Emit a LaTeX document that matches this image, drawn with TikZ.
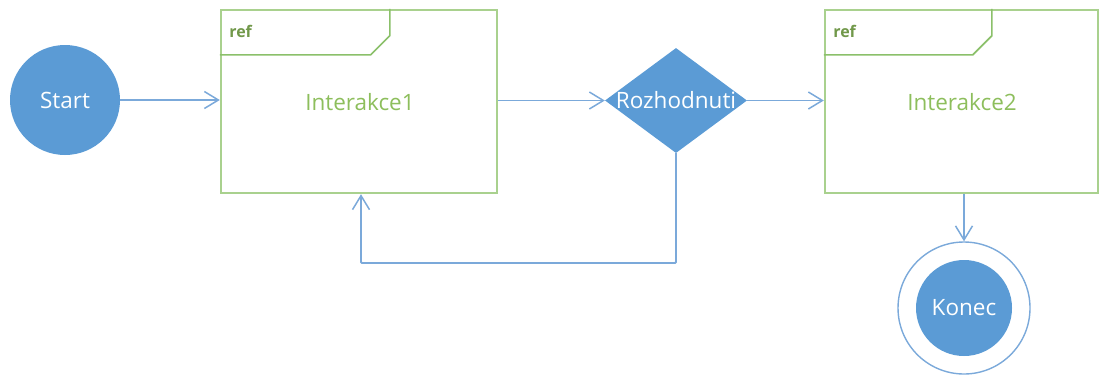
\documentclass[tikz,border=0pt]{standalone}
\usepackage{fontspec}
\setmainfont{Open Sans}
\usetikzlibrary{shapes.geometric,arrows.meta,calc}
\definecolor{nodeblue}{HTML}{5B9BD5}
\definecolor{linkblue}{HTML}{7BA9DA}
\definecolor{frameline}{HTML}{A9D18E}
\definecolor{tabline}{HTML}{8BC06A}
\definecolor{labelgreen}{HTML}{8DBE5C}
\tikzset{
  link/.style={draw=linkblue, line width=1.8pt,
    -{Straight Barb[length=14pt,width=17pt,line width=1.5pt]}},
  labelfont/.style={font=\fontsize{22.5}{24}\selectfont},
  startnode/.style={circle, fill=nodeblue, minimum size=110pt, inner sep=0pt,
    text=white, labelfont},
  decisionnode/.style={diamond, fill=nodeblue, minimum width=142pt, minimum height=105pt,
    inner sep=0pt},
  decisiontext/.style={text=white, labelfont, inner sep=0pt},
  endnode/.style={circle, fill=nodeblue, minimum size=96pt, inner sep=0pt,
    text=white, labelfont},
  endring/.style={circle, draw=linkblue, line width=1.4pt, minimum size=132pt, inner sep=0pt},
  framebox/.style={draw=frameline, line width=2.4pt, minimum width=276pt, minimum height=183pt,
    inner sep=0pt},
  frametitle/.style={text=labelgreen, labelfont},
  reftext/.style={text=labelgreen!80!black, font=\bfseries\fontsize{16}{18}\selectfont, anchor=west},
}
\begin{document}
\begin{tikzpicture}[x=1pt,y=-1pt]
  \useasboundingbox (0,0) rectangle (1099,376);

  % start state
  \node[startnode] (start) at (65,100) {Start};

  % first interaction frame
  \node[framebox] (ia1) at (359,101.5) {};
  \node[frametitle] (ia1t) at (360,102) {Interakce1};
  \draw[tabline, line width=1.6pt] ($(ia1.north west)+(0,46)$) -- ++(151,0) -- ++(19,-19) -- ($(ia1.north west)+(170,0)$);
  \node[reftext] (ia1r) at ($(ia1.north west)+(6,23)$) {ref};

  % decision
  \node[decisionnode] (dec) at (676,100.5) {};
  \node[decisiontext] (dect) at (dec.center) {Rozhodnuti};

  % second interaction frame
  \node[framebox, minimum width=273pt] (ia2) at (961.5,101.5) {};
  \node[frametitle] (ia2t) at (962,102) {Interakce2};
  \draw[tabline, line width=1.6pt] ($(ia2.north west)+(0,46)$) -- ++(149,0) -- ++(19,-19) -- ($(ia2.north west)+(168,0)$);
  \node[reftext] (ia2r) at ($(ia2.north west)+(6,23)$) {ref};

  % final state
  \node[endring] (endr) at (964,308) {};
  \node[endnode] (konec) at (964,308) {Konec};

  % connectors
  \draw[link] (start.east) -- (start.east -| ia1.west);
  \draw[link] (ia1.east |- dec.west) -- (dec.west);
  \draw[link] (dec.east) -- (dec.east -| ia2.west);
  \draw[link] (ia2.south -| endr.north) -- (endr.north);
  \coordinate (loopR) at (676,263);
  \coordinate (loopL) at (361,263);
  \draw[link, rounded corners=1pt] (dec.south) -- (loopR) -- (loopL) -- (loopL |- ia1.south);
\end{tikzpicture}
\end{document}
